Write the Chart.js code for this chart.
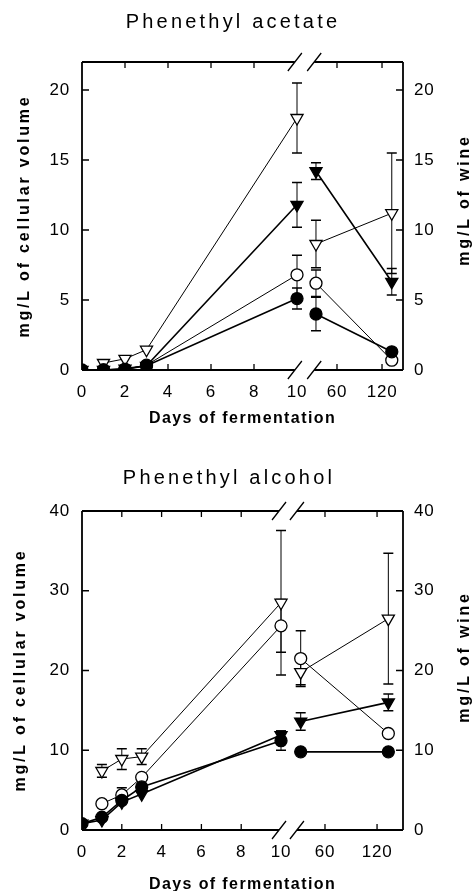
<!DOCTYPE html>
<html>
<head>
<meta charset="utf-8">
<script src="https://cdn.jsdelivr.net/npm/chart.js@4.4.1/dist/chart.umd.min.js"></script>
<style>
  html, body { margin: 0; padding: 0; background: #fff; }
  .panel { position: relative; width: 475px; }
  #p1 { height: 440px; }
  #p2 { height: 451px; }
</style>
</head>
<body>
<div class="panel" id="p1"><canvas id="acetateChart"></canvas></div>
<div class="panel" id="p2"><canvas id="alcoholChart"></canvas></div>
<script>
// ============================================================
// DATA
// ============================================================
const days       = [0, 1, 2, 3, 10, 32, 133];
const xTickDays  = [0, 2, 4, 6, 8, 10, 60, 120];
const BREAK_INDEX = 5; // first point after the axis break

// Phenethyl acetate
const acetateOpenTri      = [null, 0.5, 0.8, 1.45, 18.0, 9.0, 11.2];
const acetateOpenTriErr   = [0, 0, 0, 0, 2.5, 1.7, 4.3];
const acetateFillTri      = [0, 0, 0.1, 0.3, 11.8, 14.2, 6.3];
const acetateFillTriErr   = [0, 0, 0, 0, 1.6, 0.6, 0.95];
const acetateOpenCirc     = [null, 0, 0.05, 0.35, 6.8, 6.2, 0.7];
const acetateOpenCircErr  = [0, 0, 0, 0, 1.4, 0.95, 0];
const acetateFillCirc     = [0, 0, 0.05, 0.3, 5.1, 4.0, 1.3];
const acetateFillCircErr  = [0, 0, 0, 0, 0.75, 1.2, 0];

// Phenethyl alcohol
const alcoholOpenTri      = [null, 7.4, 8.9, 9.2, 28.5, 19.8, 26.5];
const alcoholOpenTriErr   = [0, 0.8, 1.3, 1.0, 9.05, 1.6, 8.2];
const alcoholFillTri      = [0.8, 1.25, 3.5, 4.5, 11.9, 13.6, 16.0];
const alcoholFillTriErr   = [0, 0, 0, 0, 0.5, 1.1, 1.05];
const alcoholOpenCirc     = [null, 3.3, 4.4, 6.6, 25.6, 21.5, 12.1];
const alcoholOpenCircErr  = [0, 0, 0.9, 0, 3.3, 3.5, 0];
const alcoholFillCirc     = [0.8, 1.6, 3.7, 5.4, 11.2, 9.8, 9.8];
const alcoholFillCircErr  = [0, 0, 0, 0, 1.2, 0, 0.4];

// ============================================================
// LAYOUT
// ============================================================
const FONT = "'Liberation Sans', Arial, sans-serif";

const acetateLayout = {
  title: 'Phenethyl acetate', titleX: 233, titleY: 22,
  u60: 11.86, k: 0.0349, xMax: 14.93,
  yMax: 22, yStep: 5,
  top: 62, xAxisH: 70,
  xTitleY: 419, yLeft: [25, 216], yRight: [465, 200],
};
const alcoholLayout = {
  title: 'Phenethyl alcohol', titleX: 229, titleY: 38,
  u60: 12.21, k: 0.0436, xMax: 16.13,
  yMax: 40, yStep: 10,
  top: 71, xAxisH: 61,
  xTitleY: 445, yLeft: [21, 230], yRight: [465, 217],
};

const markers = {
  openTri:  { shape: 'triangle', filled: false },
  fillTri:  { shape: 'triangle', filled: true  },
  openCirc: { shape: 'circle',   filled: false },
  fillCirc: { shape: 'circle',   filled: true  },
};

function axisMap(cfg) {
  return d => d <= 10 ? d : cfg.u60 + (d - 60) * cfg.k;
}

function toPoints(vals, errs, map) {
  const pts = [];
  days.forEach((d, i) => {
    if (i === BREAK_INDEX) pts.push({ x: (map(days[i - 1]) + map(d)) / 2, y: null });
    pts.push({ x: map(d), y: vals[i], err: errs[i] });
  });
  return pts;
}

function series(vals, errs, m, map) {
  const tri = m.shape === 'triangle';
  return {
    data: toPoints(vals, errs, map),
    borderColor: '#000',
    borderWidth: m.filled ? 1.6 : 1,
    pointStyle: m.shape,
    pointRotation: tri ? 180 : 0,
    pointRadius: tri ? 7 : 6,
    pointBackgroundColor: m.filled ? '#000' : '#fff',
    pointBorderColor: '#000',
    pointBorderWidth: 1.3,
    spanGaps: false,
    tension: 0,
    fill: false,
  };
}

// ============================================================
// DECOR PLUGIN (frame, inward ticks, break marks, error bars, titles)
// ============================================================
function spacedText(ctx, text, x, y, font, spacing, rot) {
  ctx.save();
  ctx.font = font;
  ctx.letterSpacing = spacing + 'px';
  ctx.fillStyle = '#000';
  ctx.textAlign = 'center';
  ctx.textBaseline = 'middle';
  ctx.translate(x, y);
  if (rot) ctx.rotate(rot);
  ctx.fillText(text, 0, 0);
  ctx.restore();
}

const decorPlugin = {
  id: 'decor',
  beforeDraw(chart) {
    chart.ctx.letterSpacing = '0.8px';
  },
  beforeDatasetsDraw(chart) {
    const ctx = chart.ctx, ys = chart.scales.y;
    ctx.save();
    ctx.strokeStyle = '#000';
    chart.data.datasets.forEach((ds, i) => {
      const meta = chart.getDatasetMeta(i);
      ds.data.forEach((p, j) => {
        if (p.y == null || !p.err) return;
        const x = meta.data[j].x;
        const yt = ys.getPixelForValue(p.y + p.err);
        const yb = ys.getPixelForValue(Math.max(0, p.y - p.err));
        ctx.lineWidth = 1;
        ctx.beginPath(); ctx.moveTo(x, yt); ctx.lineTo(x, yb); ctx.stroke();
        ctx.lineWidth = 1.5;
        ctx.beginPath();
        ctx.moveTo(x - 5, yt); ctx.lineTo(x + 5, yt);
        ctx.moveTo(x - 5, yb); ctx.lineTo(x + 5, yb);
        ctx.stroke();
      });
    });
    ctx.restore();
  },
  afterDraw(chart, args, o) {
    const ctx = chart.ctx;
    const { left, right, top, bottom } = chart.chartArea;
    const xs = chart.scales.x, ys = chart.scales.y;
    const b1 = xs.getPixelForValue(9.9), b2 = xs.getPixelForValue(10.8);

    ctx.save();
    ctx.strokeStyle = '#000';
    ctx.lineWidth = 1.8;
    ctx.beginPath();
    ctx.moveTo(left, top); ctx.lineTo(left, bottom);
    ctx.moveTo(right, top); ctx.lineTo(right, bottom);
    [top, bottom].forEach(y => {
      ctx.moveTo(left, y); ctx.lineTo(b1, y);
      ctx.moveTo(b2, y); ctx.lineTo(right, y);
    });
    ctx.stroke();

    // break slashes
    ctx.lineWidth = 1.3;
    ctx.beginPath();
    [top, bottom].forEach(y => {
      [b1, b2].forEach(bx => {
        ctx.moveTo(bx - 7, y + 9); ctx.lineTo(bx + 7, y - 9);
      });
    });
    ctx.stroke();

    // inward ticks
    ctx.lineWidth = 1.3;
    ctx.beginPath();
    xTickDays.filter(d => d !== 0 && d !== 10).forEach(d => {
      const x = xs.getPixelForValue(o.map(d));
      ctx.moveTo(x, bottom); ctx.lineTo(x, bottom - 6);
      ctx.moveTo(x, top); ctx.lineTo(x, top + 6);
    });
    ys.ticks.filter(t => t.value > 0 && t.value < o.yMax).forEach(t => {
      const y = ys.getPixelForValue(t.value);
      ctx.moveTo(left, y); ctx.lineTo(left + 7, y);
      ctx.moveTo(right, y); ctx.lineTo(right - 7, y);
    });
    ctx.stroke();
    ctx.restore();

    // texts
    spacedText(ctx, o.title, o.titleX, o.titleY, `20px ${FONT}`, 3.2);
    spacedText(ctx, 'Days of fermentation', (left + right) / 2, o.xTitleY, `bold 16px ${FONT}`, 1.4);
    spacedText(ctx, 'mg/L of cellular volume', o.yLeft[0], o.yLeft[1], `bold 16px ${FONT}`, 2.8, -Math.PI / 2);
    spacedText(ctx, 'mg/L of wine', o.yRight[0], o.yRight[1], `bold 16px ${FONT}`, 2.8, -Math.PI / 2);
  }
};

// ============================================================
// CHARTS
// ============================================================
function makeChart(id, cfg, list) {
  const map = axisMap(cfg);
  const tickFont = { family: FONT, size: 17 };
  const yAxis = (pos, w) => ({
    position: pos,
    min: 0, max: cfg.yMax,
    afterFit: s => { s.width = w; },
    grid: { display: false, drawTicks: false },
    border: { display: false },
    ticks: { stepSize: cfg.yStep, includeBounds: false, padding: pos === 'left' ? 12 : 11, color: '#000', font: tickFont },
  });

  return new Chart(document.getElementById(id), {
    type: 'line',
    data: { datasets: list.map(s => series(s[0], s[1], s[2], map)) },
    plugins: [decorPlugin],
    options: {
      responsive: true,
      maintainAspectRatio: false,
      animation: false,
      events: [],
      layout: { padding: { top: cfg.top, left: 0, right: 0, bottom: 0 } },
      plugins: {
        legend: { display: false },
        tooltip: { enabled: false },
        decor: { ...cfg, map },
      },
      scales: {
        x: {
          type: 'linear',
          min: 0, max: cfg.xMax,
          afterBuildTicks: axis => { axis.ticks = xTickDays.map(d => ({ value: map(d) })); },
          afterFit: s => { s.height = cfg.xAxisH; },
          grid: { display: false, drawTicks: false },
          border: { display: false },
          ticks: {
            autoSkip: false, maxRotation: 0, padding: 12, color: '#000', font: tickFont,
            callback: (v, i) => xTickDays[i],
          },
        },
        y: yAxis('left', 82),
        y2: yAxis('right', 72),
      },
    },
  });
}

makeChart('acetateChart', acetateLayout, [
  [acetateFillCirc, acetateFillCircErr, markers.fillCirc],
  [acetateFillTri,  acetateFillTriErr,  markers.fillTri],
  [acetateOpenCirc, acetateOpenCircErr, markers.openCirc],
  [acetateOpenTri,  acetateOpenTriErr,  markers.openTri],
]);

makeChart('alcoholChart', alcoholLayout, [
  [alcoholFillCirc, alcoholFillCircErr, markers.fillCirc],
  [alcoholFillTri,  alcoholFillTriErr,  markers.fillTri],
  [alcoholOpenCirc, alcoholOpenCircErr, markers.openCirc],
  [alcoholOpenTri,  alcoholOpenTriErr,  markers.openTri],
]);
</script>
</body>
</html>
